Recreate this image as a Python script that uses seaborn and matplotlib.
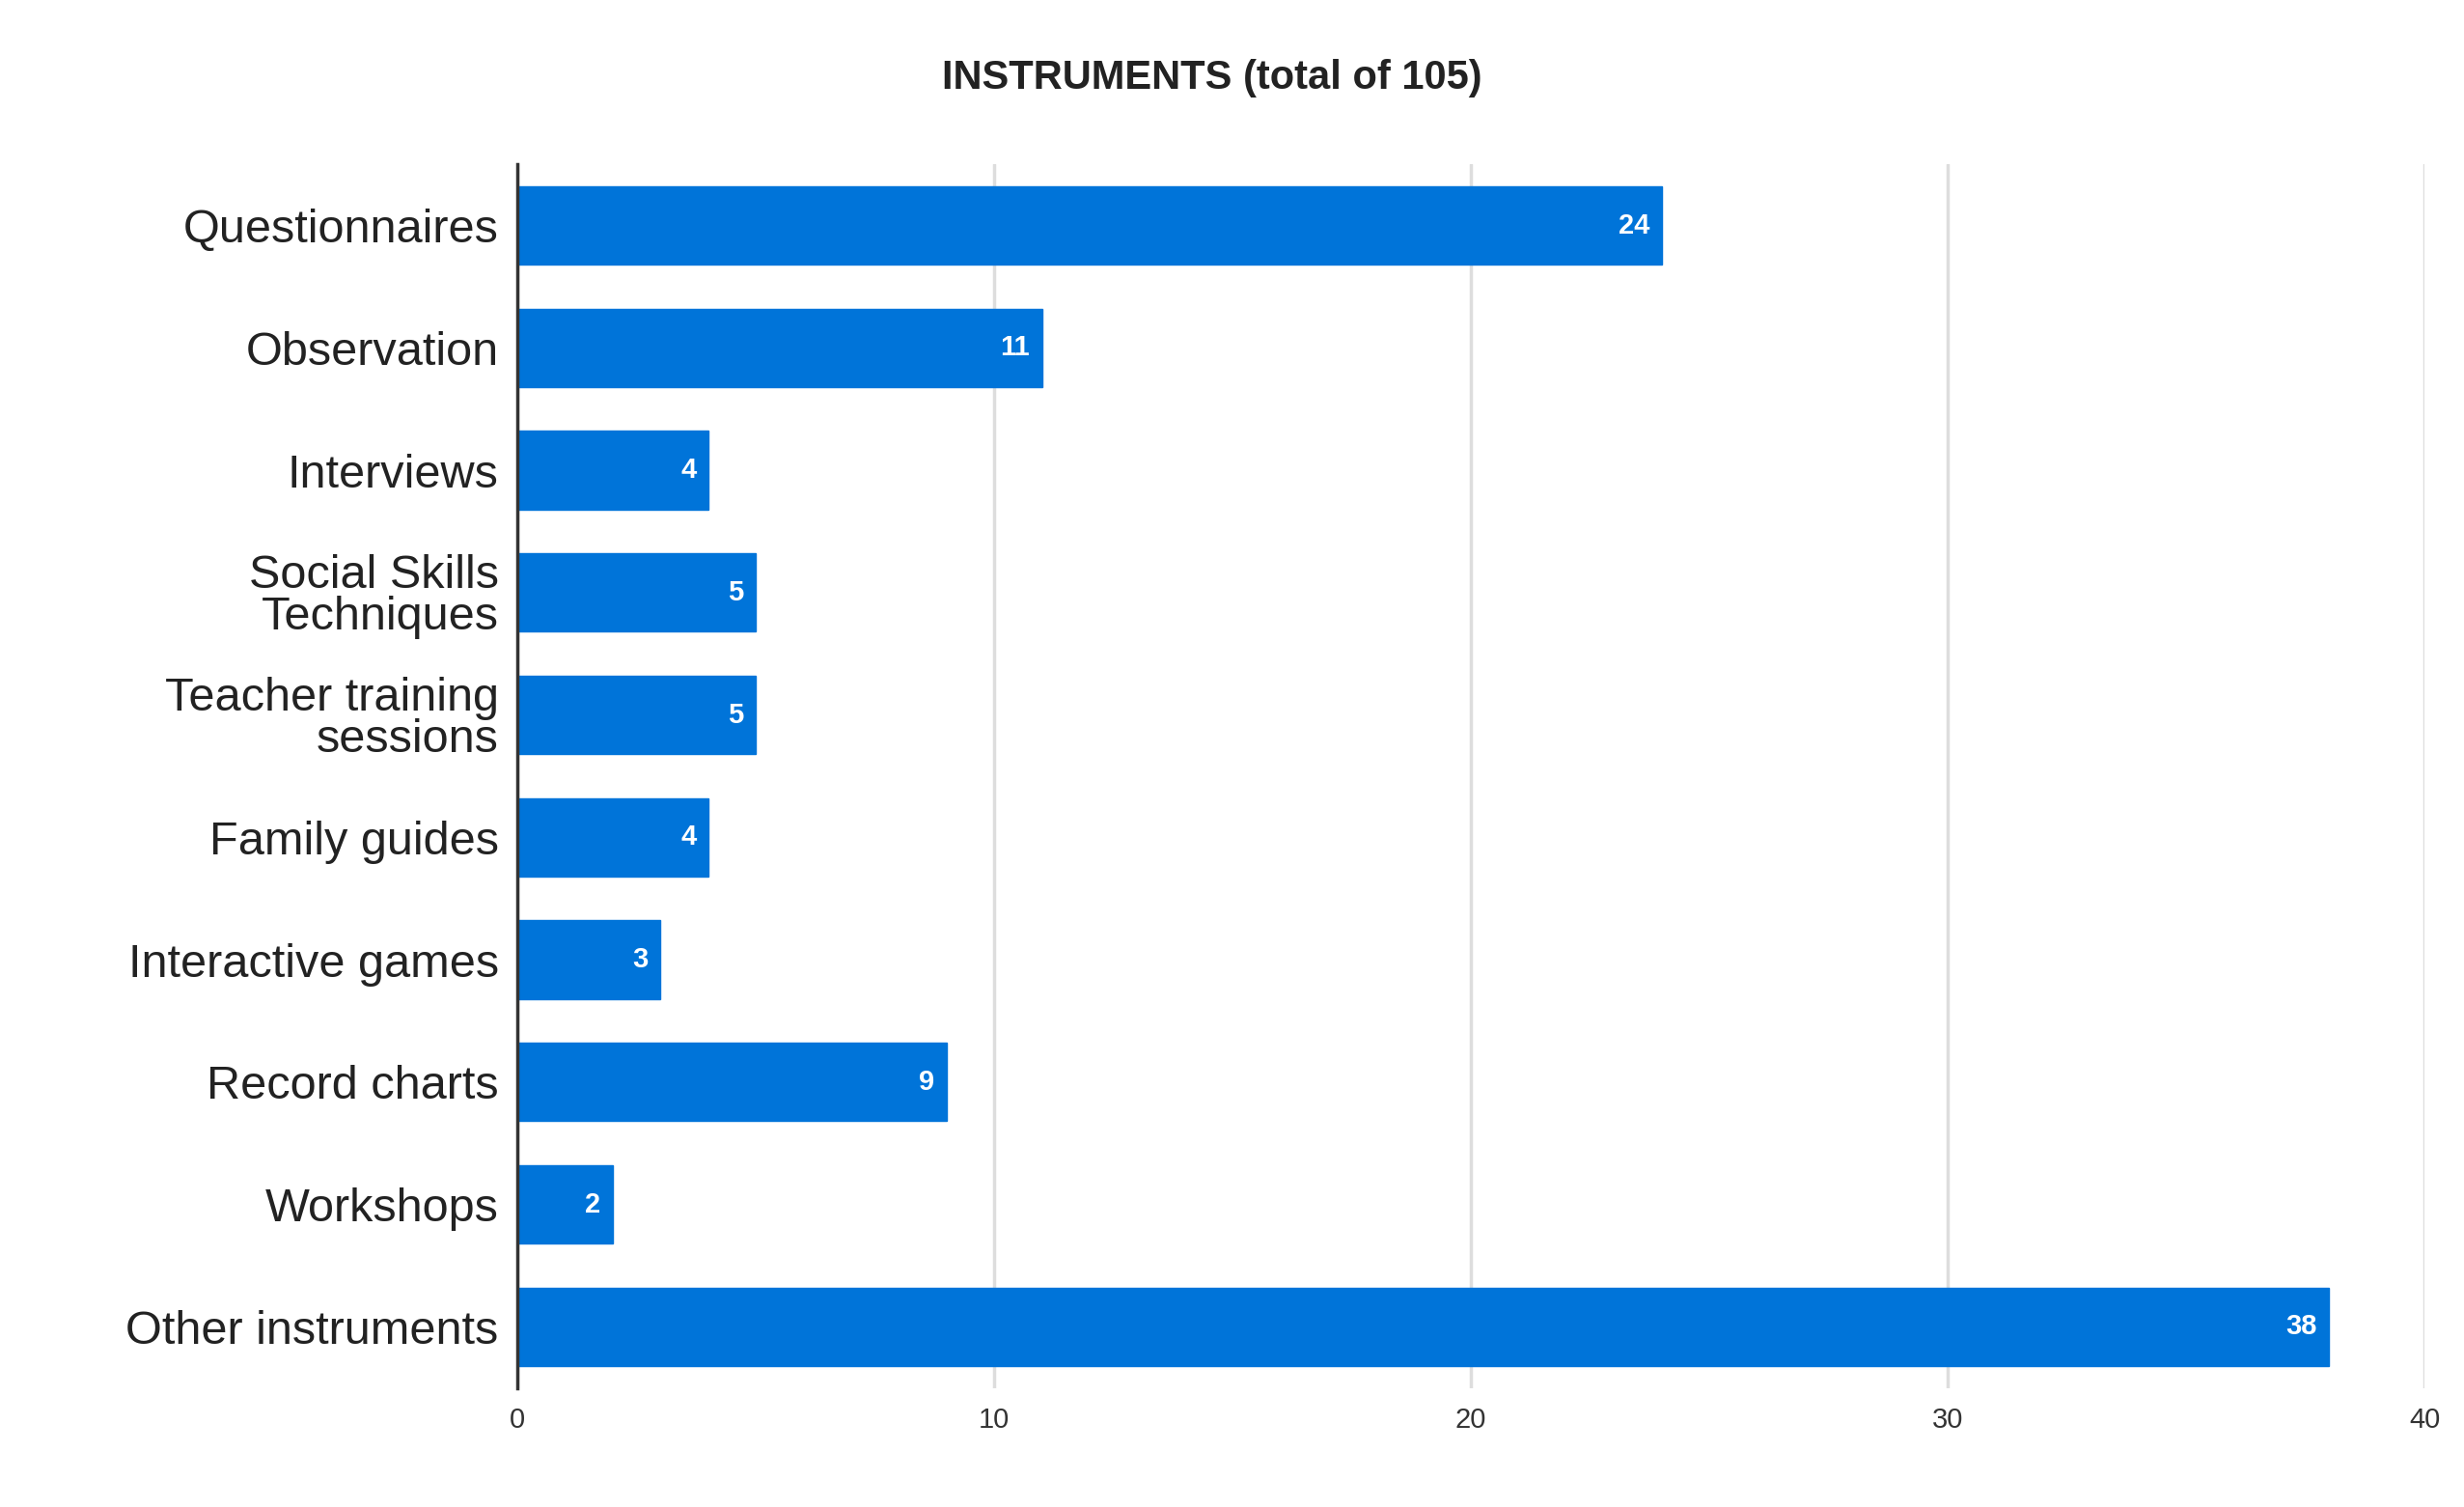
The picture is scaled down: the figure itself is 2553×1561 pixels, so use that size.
import matplotlib
matplotlib.use("Agg")
import matplotlib.pyplot as plt
import seaborn as sns
import pandas as pd

categories = ["Questionnaires", "Observation", "Interviews", "Social Skills\nTechniques",
              "Teacher training\nsessions", "Family guides", "Interactive games",
              "Record charts", "Workshops", "Other instruments"]
values = [24, 11, 4, 5, 5, 4, 3, 9, 2, 38]
xticks = [0, 10, 20, 30, 40]

sns.set_theme(style="white")
plt.rcParams['font.family'] = ['Liberation Sans', 'DejaVu Sans']
df = pd.DataFrame({"cat": categories, "val": values})

fig = plt.figure(figsize=(25.53, 15.61), dpi=100)
ax = fig.add_axes([0.21, 0.079, 0.774, 0.812])
sns.barplot(data=df, y="cat", x="val", color="#0074D9", saturation=1, width=0.64, ax=ax,
            edgecolor="#0074D9")
ax.set_xlim(0, 40)
ax.set_xticks(xticks)
ax.set_xticklabels([str(t) for t in xticks], fontsize=21, color="#333333")
ax.tick_params(axis="y", labelsize=35, length=0, pad=14)
ax.tick_params(axis="x", length=0, pad=14)
for lab in ax.get_yticklabels():
    lab.set_color("#222222")
    lab.set_linespacing(0.95)
ax.set_xlabel("")
ax.set_ylabel("")
ax.grid(axis="x", color="#dddddd", linewidth=2.5)
ax.set_axisbelow(True)
for s in ["top", "right", "bottom"]:
    ax.spines[s].set_visible(False)
ax.spines["left"].set_color("#333333")
ax.spines["left"].set_linewidth(2.5)
for i, v in enumerate(values):
    ax.text(v - 0.25, i, str(v), ha="right", va="center", color="white",
            fontsize=21, fontweight="bold")
fig.text(0.492, 0.948, "INSTRUMENTS (total of 105)", ha="center", va="center",
         fontsize=30, fontweight="bold", color="#222222")
fig.savefig("out.png", dpi=100, facecolor="white")
